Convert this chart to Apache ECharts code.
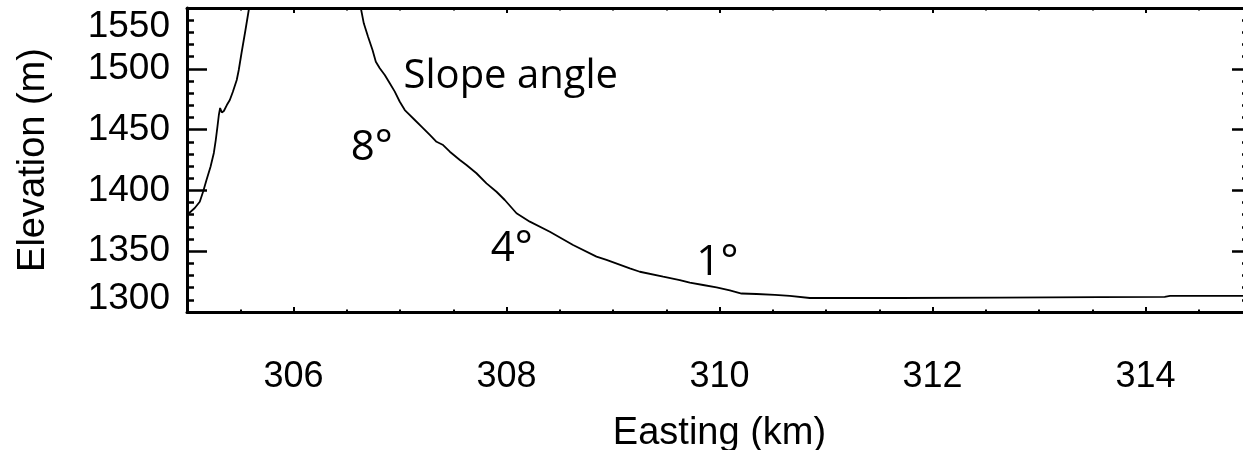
<!DOCTYPE html>
<html>
<head>
<meta charset="utf-8">
<script src="https://cdn.jsdelivr.net/npm/echarts@6/dist/echarts.min.js"></script>
<style>
  html, body { margin: 0; padding: 0; background: #fff; overflow: hidden; }
  #chart { width: 1260px; height: 450px; }
</style>
</head>
<body>
<div id="chart"></div>
<script>
// Elevation profile across the valley: easting (km) vs elevation (m)

// Western wall, rising out of the left edge of the plot
const westEasting = [305.0, 305.073, 305.12, 305.151, 305.183, 305.221, 305.252, 305.27, 305.286, 305.299,
  305.311, 305.327, 305.346, 305.374, 305.402, 305.43, 305.467, 305.486, 305.512, 305.549, 305.583];
const westElevation = [1379.8, 1385.5, 1390.7, 1398.9, 1408.6, 1419.5, 1430.8, 1441.4, 1452.4, 1462.0,
  1467.8, 1464.1, 1465.3, 1470.2, 1474.3, 1480.9, 1490.8, 1499.0, 1513.0, 1531.9, 1550.0];

// Eastern slope, descending to the valley floor
const eastEasting = [306.632, 306.66, 306.7, 306.742, 306.773, 306.81, 306.857, 306.904, 306.951, 306.998,
  307.045, 307.076, 307.139, 307.202, 307.28, 307.343, 307.405, 307.468, 307.562, 307.624,
  307.718, 307.812, 307.906, 307.984, 308.094, 308.219, 308.407, 308.625, 308.845, 308.939,
  309.158, 309.252, 309.471, 309.627, 309.721, 309.846, 309.972, 310.097, 310.207, 310.348,
  310.52, 310.66, 310.848, 311.69, 312.63, 313.57, 314.18, 314.23, 315.0];
const eastElevation = [1550.0, 1537.4, 1526.4, 1515.5, 1505.8, 1500.4, 1494.9, 1488.1, 1481.2, 1472.9,
  1466.1, 1463.4, 1457.9, 1452.4, 1445.6, 1440.0, 1437.3, 1431.8, 1425.0, 1420.9,
  1414.1, 1405.8, 1398.9, 1392.1, 1381.2, 1374.3, 1366.0, 1355.1, 1345.5, 1342.8,
  1335.9, 1333.1, 1329.0, 1326.3, 1324.1, 1322.2, 1320.3, 1317.7, 1315.2, 1314.8,
  1314.0, 1313.2, 1311.5, 1311.5, 1311.9, 1312.3, 1312.5, 1313.2, 1313.2];

// Axis ticks
const eastingTicks = [306, 308, 310, 312, 314];
const elevationTicks = [1300, 1350, 1400, 1450, 1500, 1550];

// Slope annotations
const noteText = ['Slope angle', '8°', '4°', '1°'];
const noteEasting = [308.04, 306.735, 308.05, 309.98];
const noteElevation = [1493.3, 1434.9, 1351.8, 1340.3];
const noteSize = [40, 42, 42, 42];

const pair = (xs, ys) => xs.map((x, i) => [x, ys[i]]);

const sans = 'Liberation Sans, Arial, Helvetica, sans-serif';
const noteFont = '"Open Sans", Lato, Carlito, Calibri, sans-serif';
const black = '#000';
const yMin = elevationTicks[0];
const yMax = elevationTicks[elevationTicks.length - 1];

function xAxisDef(position, major, extra) {
  return Object.assign({
    type: 'value', min: 305, max: 315, gridIndex: 0, position: position,
    splitLine: { show: false },
    axisLine: { show: major, onZero: false, lineStyle: { color: black, width: 3 } },
    axisTick: major
      ? { show: true, inside: true, length: 5, customValues: eastingTicks, lineStyle: { color: black, width: 2 } }
      : { show: true, inside: true, length: 2.5, lineStyle: { color: black, width: 2 } },
    axisLabel: { show: false }
  }, major ? {} : { interval: 0.5 }, extra || {});
}

// Ticks point into the plot on both sides
function yAxisDef(position, major, extra) {
  const minorLen = position === 'right' ? 10 : 7;
  return Object.assign({
    type: 'value', min: yMin, max: yMax, gridIndex: 0, position: position,
    interval: major ? 50 : 10,
    splitLine: { show: false },
    axisLine: { show: major, onZero: false, lineStyle: { color: black, width: 3 } },
    axisTick: { show: true, inside: true, length: major ? 20 : minorLen, lineStyle: { color: black, width: 2.5 } },
    axisLabel: { show: false }
  }, extra || {});
}

const labelRich = {
  hi: { fontFamily: sans, fontSize: 37, color: black, padding: [37, 0, 0, 0] },
  lo: { fontFamily: sans, fontSize: 37, color: black, padding: [0, 0, 27, 0] }
};

const chart = echarts.init(document.getElementById('chart'), null, { renderer: 'canvas' });

chart.setOption({
  animation: false,
  backgroundColor: '#fff',
  grid: { left: 187, top: 8, right: 8, bottom: 138, containLabel: false, outerBoundsMode: 'none' },
  xAxis: [
    xAxisDef('bottom', true, {
      name: 'Easting (km)', nameLocation: 'middle', nameGap: 103,
      nameTextStyle: { fontFamily: sans, fontSize: 38, color: black },
      axisLabel: { show: true, customValues: eastingTicks, margin: 47, fontFamily: sans, fontSize: 36, color: black }
    }),
    xAxisDef('bottom', false),
    xAxisDef('top', true),
    xAxisDef('top', false)
  ],
  yAxis: [
    yAxisDef('left', true, {
      name: 'Elevation (m)', nameLocation: 'middle', nameGap: 134, nameRotate: 90,
      nameTextStyle: { fontFamily: sans, fontSize: 38, color: black },
      axisLabel: {
        show: true, margin: 17, fontFamily: sans, fontSize: 37, color: black,
        formatter: v => v === yMax ? '{hi|' + v + '}' : v === yMin ? '{lo|' + v + '}' : String(v),
        rich: labelRich
      }
    }),
    yAxisDef('left', false),
    yAxisDef('right', true),
    yAxisDef('right', false)
  ],
  series: [
    {
      type: 'line', xAxisIndex: 0, yAxisIndex: 0,
      data: pair(westEasting, westElevation),
      showSymbol: false, clip: true,
      lineStyle: { color: black, width: 1.8 }
    },
    {
      type: 'line', xAxisIndex: 0, yAxisIndex: 0,
      data: pair(eastEasting, eastElevation),
      showSymbol: false, clip: true,
      lineStyle: { color: black, width: 1.8 }
    },
    {
      type: 'scatter', xAxisIndex: 0, yAxisIndex: 0,
      symbolSize: 0, silent: true,
      itemStyle: { color: black, opacity: 1 },
      data: noteText.map((t, i) => ({
        value: [noteEasting[i], noteElevation[i]],
        label: {
          show: true, position: 'inside', formatter: t,
          fontFamily: noteFont, fontSize: noteSize[i], opacity: 1,
          color: black, textBorderWidth: 0, textShadowBlur: 0
        }
      }))
    }
  ]
});
</script>
</body>
</html>
